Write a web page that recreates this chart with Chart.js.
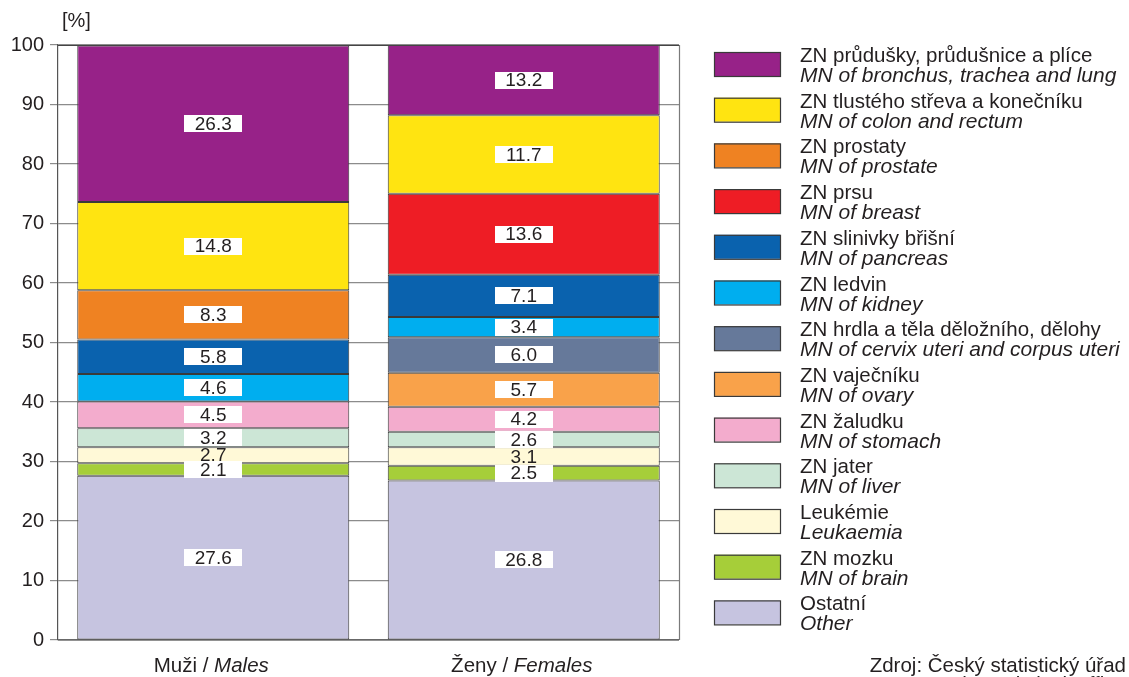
<!DOCTYPE html>
<html><head><meta charset="utf-8">
<script src="https://cdn.jsdelivr.net/npm/chart.js@4"></script>
<style>html,body{margin:0;padding:0;background:#fff}</style>
</head><body>
<canvas id="c" width="1129" height="677"></canvas>
<script>
// ---- data (stack order: bottom to top) ----
const categoriesCz = ['Muži', 'Ženy'];
const categoriesEn = ['Males', 'Females'];
const seriesCz = ['Ostatní', 'ZN mozku', 'Leukémie', 'ZN jater', 'ZN žaludku', 'ZN vaječníku',
  'ZN hrdla a těla děložního, dělohy', 'ZN ledvin', 'ZN slinivky břišní', 'ZN prsu', 'ZN prostaty',
  'ZN tlustého střeva a konečníku', 'ZN průdušky, průdušnice a plíce'];
const seriesEn = ['Other', 'MN of brain', 'Leukaemia', 'MN of liver', 'MN of stomach', 'MN of ovary',
  'MN of cervix uteri and corpus uteri', 'MN of kidney', 'MN of pancreas', 'MN of breast', 'MN of prostate',
  'MN of colon and rectum', 'MN of bronchus, trachea and lung'];
const seriesColors = ['#c6c4e0', '#a6ce39', '#fff9d7', '#cce6d6', '#f3accd', '#f9a24a',
  '#66799a', '#00aeef', '#0a62ae', '#ee1d25', '#ef8222', '#ffe411', '#972288'];
// segment heights as drawn in the picture
const malesValues = [27.6, 2.1, 2.7, 3.2, 4.5, null, null, 4.6, 5.8, null, 8.3, 14.8, 26.3];
const femalesValues = [26.8, 2.5, 3.1, 2.6, 4.2, 5.7, 6.0, 3.4, 7.1, 13.6, null, 13.2, 11.8];
// numbers printed on the segments in the picture
const malesLabels = ['27.6', '2.1', '2.7', '3.2', '4.5', null, null, '4.6', '5.8', null, '8.3', '14.8', '26.3'];
const femalesLabels = ['26.8', '2.5', '3.1', '2.6', '4.2', '5.7', '6.0', '3.4', '7.1', '13.6', null, '11.7', '13.2'];
const yMin = 0, yMax = 100, yStep = 10;
const unitLabel = '[%]';
const sourceCz = 'Zdroj: Český statistický úřad';
const sourceEn = 'Source: Czech Statistical Office';

const FONT = '"Liberation Sans", Arial, Helvetica, sans-serif';
const TXT = '#231f20';
const printed = [malesLabels, femalesLabels];

const datasets = seriesCz.map((name, i) => ({
  label: name,
  data: [malesValues[i], femalesValues[i]],
  backgroundColor: seriesColors[i],
  borderColor: '#3a3a3a',
  borderWidth: 1,
  borderSkipped: false,
  categoryPercentage: 1,
  barPercentage: 0.876
}));

const decor = {
  id: 'decor',
  beforeDatasetsDraw(chart) {
    const ctx = chart.ctx, a = chart.chartArea;
    ctx.save();
    ctx.strokeStyle = '#7a7a7a';
    ctx.lineWidth = 1.2;
    ctx.beginPath();
    ctx.moveTo(a.right + 0.5, a.top);
    ctx.lineTo(a.right + 0.5, a.bottom);
    ctx.stroke();
    ctx.restore();
  },
  afterDatasetsDraw(chart) {
    const ctx = chart.ctx, a = chart.chartArea;
    ctx.save();
    ctx.font = '19px ' + FONT;
    ctx.textAlign = 'center';
    ctx.textBaseline = 'middle';
    chart.data.datasets.forEach((ds, di) => {
      const meta = chart.getDatasetMeta(di);
      meta.data.forEach((bar, j) => {
        const t = printed[j][di];
        if (t === null || t === undefined || ds.data[j] === null) return;
        const cy = (bar.y + bar.base) / 2;
        if (seriesColors[di] !== '#fff9d7') {
          ctx.fillStyle = '#ffffff';
          ctx.fillRect(Math.round(bar.x - 29), Math.round(cy - 8.5), 58, 17);
        }
        ctx.fillStyle = TXT;
        ctx.fillText(t, bar.x, cy + 1);
      });
    });
    ctx.strokeStyle = '#444';
    ctx.lineWidth = 1.2;
    ctx.beginPath();
    ctx.moveTo(a.left, a.top + 0.5); ctx.lineTo(a.right, a.top + 0.5);
    ctx.moveTo(a.left, a.bottom); ctx.lineTo(a.right, a.bottom);
    ctx.stroke();
    ctx.restore();
  },
  afterDraw(chart) {
    const ctx = chart.ctx, a = chart.chartArea;
    const xs = chart.scales.x;
    ctx.save();
    ctx.fillStyle = TXT;
    ctx.textBaseline = 'alphabetic';
    ctx.font = '20px ' + FONT;
    ctx.textAlign = 'left';
    ctx.fillText(unitLabel, a.left + 4, 27);
    categoriesCz.forEach((cz, i) => {
      const cx = xs.getPixelForValue(i) - 2;
      const p1 = cz + ' / ';
      ctx.font = '20.5px ' + FONT;
      const w1 = ctx.measureText(p1).width;
      ctx.font = 'italic 20.5px ' + FONT;
      const w2 = ctx.measureText(categoriesEn[i]).width;
      const x0 = cx - (w1 + w2) / 2;
      ctx.font = '20.5px ' + FONT;
      ctx.fillText(p1, x0, 672);
      ctx.font = 'italic 20.5px ' + FONT;
      ctx.fillText(categoriesEn[i], x0 + w1, 672);
    });
    const boxX = 714, boxW = 66, boxH = 24, top0 = 52, step = 45.7;
    for (let k = 0; k < seriesCz.length; k++) {
      const i = seriesCz.length - 1 - k;
      const y = top0 + k * step;
      ctx.fillStyle = seriesColors[i];
      ctx.fillRect(boxX, y, boxW, boxH);
      ctx.strokeStyle = '#3a3a3a';
      ctx.lineWidth = 1.2;
      ctx.strokeRect(boxX + 0.5, y + 0.5, boxW, boxH);
      ctx.fillStyle = TXT;
      ctx.textAlign = 'left';
      ctx.font = '20.5px ' + FONT;
      ctx.fillText(seriesCz[i], 800, y + 10);
      ctx.font = 'italic 21px ' + FONT;
      ctx.fillText(seriesEn[i], 800, y + 30);
    }
    ctx.textAlign = 'right';
    ctx.font = '20.5px ' + FONT;
    ctx.fillText(sourceCz, 1126, 672);
    ctx.fillText(sourceEn, 1126, 691);
    ctx.restore();
  }
};

new Chart(document.getElementById('c'), {
  type: 'bar',
  data: { labels: categoriesCz, datasets },
  options: {
    responsive: false,
    devicePixelRatio: 1,
    animation: false,
    layout: { padding: { left: 0, right: 450, top: 45, bottom: 0 } },
    plugins: { legend: { display: false }, tooltip: { enabled: false } },
    scales: {
      x: {
        stacked: true,
        grid: { display: false, drawTicks: false },
        border: { display: false },
        ticks: { display: false },
        afterFit: s => { s.height = 37; }
      },
      y: {
        stacked: true,
        min: yMin, max: yMax,
        ticks: { stepSize: yStep, color: TXT, font: { family: FONT, size: 20 }, padding: 6 },
        grid: { color: '#8c8c8c', lineWidth: 1.2, tickLength: 8, drawTicks: true },
        border: { color: '#555', width: 1.2 },
        afterFit: s => { s.width = 58; }
      }
    }
  },
  plugins: [decor]
});
</script>
</body></html>
